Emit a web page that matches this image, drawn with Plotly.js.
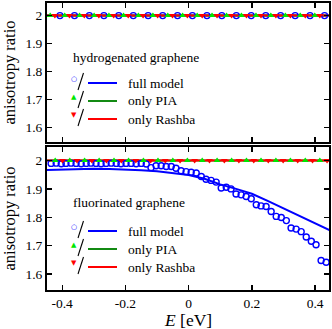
<!DOCTYPE html>
<html>
<head>
<meta charset="utf-8">
<script src="https://cdn.plot.ly/plotly-3.0.1.min.js"></script>
<style>
  html, body { margin: 0; padding: 0; background: #fff; }
  #chart { width: 332px; height: 329px; }
</style>
</head>
<body>
<div id="chart"></div>
<script>
// energy grid of the fluorinated full-model points (eV)
const F_FULL_E = [-0.435, -0.419, -0.403, -0.388, -0.372, -0.356, -0.340, -0.324, -0.309, -0.293,
  -0.277, -0.261, -0.245, -0.229, -0.214, -0.198, -0.182, -0.166, -0.150, -0.134,
  -0.119, -0.103, -0.087, -0.071, -0.055, -0.040, -0.024, -0.008, 0.008, 0.024,
  0.040, 0.055, 0.071, 0.087, 0.103, 0.119, 0.134, 0.150, 0.166, 0.182,
  0.198, 0.214, 0.229, 0.245, 0.261, 0.277, 0.293, 0.309, 0.324, 0.340,
  0.356, 0.372, 0.388, 0.403, 0.419, 0.435];
const F_FULL = [1.990, 1.991, 1.989, 1.990, 1.991, 1.990, 1.989, 1.990, 1.991, 1.990,
  1.989, 1.990, 1.991, 1.990, 1.989, 1.990, 1.990, 1.989, 1.990, 1.988,
  1.975, 1.982, 1.982, 1.979, 1.979, 1.973, 1.964, 1.961, 1.959, 1.956,
  1.944, 1.934, 1.930, 1.924, 1.903, 1.906, 1.900, 1.882, 1.879, 1.873,
  1.865, 1.844, 1.840, 1.838, 1.820, 1.803, 1.799, 1.788, 1.762, 1.758,
  1.749, 1.730, 1.715, 1.703, 1.647, 1.641];

// smooth curves
const LINE_E = [-0.45, -0.40, -0.35, -0.30, -0.25, -0.20, -0.15, -0.10, -0.05, 0.00,
  0.05, 0.10, 0.15, 0.20, 0.25, 0.30, 0.35, 0.40, 0.45];
const F_LINE_FULL = [1.967, 1.969, 1.970, 1.971, 1.970, 1.969, 1.966, 1.962, 1.956, 1.949,
  1.936, 1.916, 1.900, 1.883, 1.858, 1.831, 1.803, 1.778, 1.752];
const F_LINE_PIA = [2, 2, 2, 2, 2, 2, 2, 2, 2, 2, 2, 2, 2, 2, 2, 2, 2, 2, 2];
const F_LINE_RASH = [2, 2, 2, 2, 2, 2, 2, 2, 2, 2, 2, 2, 2, 2, 2, 2, 2, 2, 2];
const H_LINE_FULL = [2, 2, 2, 2, 2, 2, 2, 2, 2, 2, 2, 2, 2, 2, 2, 2, 2, 2, 2];
const H_LINE_PIA = [2, 2, 2, 2, 2, 2, 2, 2, 2, 2, 2, 2, 2, 2, 2, 2, 2, 2, 2];
const H_LINE_RASH = [2, 2, 2, 2, 2, 2, 2, 2, 2, 2, 2, 2, 2, 2, 2, 2, 2, 2, 2];

// sparse marker points
const F_PIA_E = [-0.422, -0.376, -0.329, -0.283, -0.236, -0.190, -0.143, -0.097, -0.050, -0.004,
  0.043, 0.090, 0.136, 0.183, 0.229, 0.276, 0.322, 0.369, 0.415];
const F_PIA = [2, 2, 2, 2, 2, 2, 2, 2, 2, 2, 2, 2, 2, 2, 2, 2, 2, 2, 2];
const F_RASH_E = [-0.399, -0.353, -0.306, -0.260, -0.213, -0.167, -0.120, -0.074, -0.027, 0.019,
  0.066, 0.113, 0.159, 0.206, 0.252, 0.299, 0.345, 0.392, 0.438];
const F_RASH = [2, 2, 2, 2, 2, 2, 2, 2, 2, 2, 2, 2, 2, 2, 2, 2, 2, 2, 2];

const H_FULL_E = [-0.407, -0.361, -0.314, -0.268, -0.221, -0.175, -0.128, -0.082, -0.035, 0.012,
  0.058, 0.105, 0.151, 0.198, 0.244, 0.291, 0.337, 0.384, 0.430];
const H_FULL = [2, 2, 2, 2, 2, 2, 2, 2, 2, 2, 2, 2, 2, 2, 2, 2, 2, 2, 2];
const H_PIA_E = [-0.438, -0.392, -0.345, -0.299, -0.252, -0.206, -0.159, -0.113, -0.066, -0.019,
  0.027, 0.074, 0.120, 0.167, 0.213, 0.260, 0.306, 0.353, 0.399];
const H_PIA = [2, 2, 2, 2, 2, 2, 2, 2, 2, 2, 2, 2, 2, 2, 2, 2, 2, 2, 2];
const H_RASH_E = [-0.423, -0.377, -0.330, -0.284, -0.237, -0.191, -0.144, -0.098, -0.051, -0.004,
  0.043, 0.090, 0.136, 0.183, 0.229, 0.276, 0.322, 0.369, 0.415];
const H_RASH = [2, 2, 2, 2, 2, 2, 2, 2, 2, 2, 2, 2, 2, 2, 2, 2, 2, 2, 2];

const X_TICKS = [-0.4, -0.2, 0, 0.2, 0.4];
const X_TICK_TEXT = ["-0.4", "-0.2", "0", "0.2", "0.4"];
const Y_TICKS = [1.6, 1.7, 1.8, 1.9, 2];
const Y_TICK_TEXT = ["1.6", "1.7", "1.8", "1.9", "2"];
const SERIES_NAMES = ["full model", "only PIA", "only Rashba"];
const PANEL_NAMES = ["hydrogenated graphene", "fluorinated graphene"];

const BLUE = "#0000ff", LIME = "#00e600", GREEN = "#138a13", RED = "#ff0000";
const SERIF = "Liberation Serif, Times New Roman, serif";

// pixel -> paper helpers (plot area 47..329 x 3..290)
const px = (x) => (x - 47) / 282;
const py = (y) => (290 - y) / 287;

function lineTrace(x, y, color, xa, ya) {
  return { x, y, xaxis: xa, yaxis: ya, type: "scatter", mode: "lines",
    line: { color, width: 2 }, hoverinfo: "skip", showlegend: false };
}
function markTrace(x, y, symbol, color, xa, ya) {
  const open = symbol === "circle-open";
  return { x, y, xaxis: xa, yaxis: ya, type: "scatter", mode: "markers",
    marker: { symbol, size: 6, color, line: { color, width: open ? 1.4 : 0 } },
    hoverinfo: "skip", showlegend: false };
}

const data = [
  lineTrace(LINE_E, H_LINE_FULL, BLUE, "x", "y"),
  lineTrace(LINE_E, H_LINE_PIA, GREEN, "x", "y"),
  lineTrace(LINE_E, H_LINE_RASH, RED, "x", "y"),
  markTrace(H_FULL_E, H_FULL, "circle-open", BLUE, "x", "y"),
  markTrace(H_PIA_E, H_PIA, "triangle-up", LIME, "x", "y"),
  markTrace(H_RASH_E, H_RASH, "triangle-down", RED, "x", "y"),
  lineTrace(LINE_E, F_LINE_FULL, BLUE, "x2", "y2"),
  lineTrace(LINE_E, F_LINE_PIA, GREEN, "x2", "y2"),
  lineTrace(LINE_E, F_LINE_RASH, RED, "x2", "y2"),
  markTrace(F_FULL_E, F_FULL, "circle-open", BLUE, "x2", "y2"),
  markTrace(F_PIA_E, F_PIA, "triangle-up", LIME, "x2", "y2"),
  markTrace(F_RASH_E, F_RASH, "triangle-down", RED, "x2", "y2"),
];

const axisBase = {
  showline: true, linewidth: 2, linecolor: "#000", mirror: "allticks",
  ticks: "inside", ticklen: 5, tickwidth: 1.3, tickcolor: "#000",
  showgrid: false, zeroline: false, fixedrange: true,
  tickfont: { family: SERIF, size: 13.5, color: "#000" },
};

const layout = {
  width: 332, height: 329,
  margin: { l: 47, r: 3, t: 3, b: 39 },
  paper_bgcolor: "#fff", plot_bgcolor: "#fff",
  font: { family: SERIF, color: "#000" },
  xaxis: Object.assign({}, axisBase, { range: [-0.448, 0.444], tickvals: X_TICKS, ticktext: X_TICK_TEXT,
    showticklabels: false, anchor: "y", domain: [0, 1] }),
  xaxis2: Object.assign({}, axisBase, { range: [-0.448, 0.444], tickvals: X_TICKS, ticktext: X_TICK_TEXT,
    anchor: "y2", domain: [0, 1], ticklabelstandoff: 0 }),
  yaxis: Object.assign({}, axisBase, { range: [1.548, 2.045], tickvals: Y_TICKS, ticktext: Y_TICK_TEXT,
    anchor: "x", domain: [py(142), 1],
    title: { text: "anisotropy ratio", font: { family: SERIF, size: 16.5 }, standoff: 6 } }),
  yaxis2: Object.assign({}, axisBase, { range: [1.543, 2.048], tickvals: Y_TICKS, ticktext: Y_TICK_TEXT,
    anchor: "x2", domain: [0, py(147)],
    title: { text: "anisotropy ratio", font: { family: SERIF, size: 16.5 }, standoff: 6 } }),
  annotations: [
    { xref: "paper", yref: "paper", x: px(188), y: py(320), xanchor: "center", yanchor: "middle",
      borderpad: 0, showarrow: false, text: "<i>E</i> [eV]", font: { family: SERIF, size: 17.5 } },
  ],
  shapes: [],
};

// hand-drawn legends: "marker / line  label"
const SYMBOLS = [["○", BLUE], ["▲", LIME], ["▼", RED]];
const LINE_COLORS = [BLUE, GREEN, RED];
function addLegend(headerY, rowYs, title) {
  layout.annotations.push({ xref: "paper", yref: "paper", x: px(71), y: py(headerY),
    xanchor: "left", yanchor: "middle", showarrow: false, text: title,
    font: { family: SERIF, size: 13.5 } });
  rowYs.forEach((ry, i) => {
    layout.annotations.push({ xref: "paper", yref: "paper", x: px(74), y: py(ry - 4),
      xanchor: "center", yanchor: "middle", showarrow: false, text: SYMBOLS[i][0],
      font: { family: "DejaVu Sans", size: 7, color: SYMBOLS[i][1] } });
    layout.annotations.push({ xref: "paper", yref: "paper", x: px(126), y: py(ry),
      xanchor: "left", yanchor: "middle", showarrow: false, text: SERIES_NAMES[i],
      font: { family: SERIF, size: 13.5 } });
    layout.shapes.push({ type: "line", xref: "paper", yref: "paper",
      x0: px(78), x1: px(83.5), y0: py(ry + 7), y1: py(ry - 10), line: { color: "#000", width: 1.1 } });
    layout.shapes.push({ type: "line", xref: "paper", yref: "paper",
      x0: px(88), x1: px(117), y0: py(ry), y1: py(ry), line: { color: LINE_COLORS[i], width: 2 } });
  });
}
addLegend(57, [83, 101, 119], PANEL_NAMES[0]);
addLegend(202, [231, 249, 267], PANEL_NAMES[1]);

Plotly.newPlot("chart", data, layout, { staticPlot: true, displayModeBar: false });
</script>
</body>
</html>
